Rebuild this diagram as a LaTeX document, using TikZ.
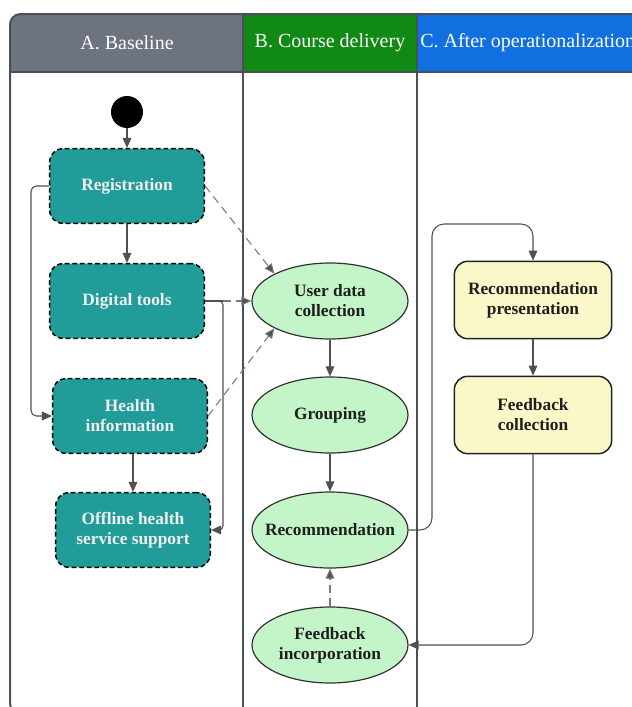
\documentclass[tikz,border=0pt]{standalone}
\usepackage{fontspec}
\setmainfont{Liberation Serif}
\usetikzlibrary{arrows.meta,shapes.geometric,positioning}

\definecolor{laneedge}{RGB}{74,80,90}
\definecolor{hdrgray}{RGB}{110,115,128}
\definecolor{hdrgreen}{RGB}{16,138,20}
\definecolor{hdrblue}{RGB}{17,112,224}
\definecolor{tealbox}{RGB}{34,156,153}
\definecolor{mintbox}{RGB}{195,245,200}
\definecolor{creambox}{RGB}{250,248,200}
\definecolor{wire}{RGB}{80,80,80}
\definecolor{dwire}{RGB}{120,120,120}

\tikzset{
  hdrtext/.style={text=white, font=\fontsize{15}{17}\selectfont, inner sep=0.75pt},
  basebox/.style={draw=black, fill=tealbox, dash pattern=on 3.5pt off 2.2pt, line width=1.1pt,
    rounded corners=10pt, minimum width=116pt, minimum height=56pt, align=center,
    text=white!94!black, font=\fontsize{13}{15}\selectfont\bfseries},
  coursebox/.style={ellipse, draw={rgb,255:red,50;green,50;blue,50}, fill=mintbox, line width=0.9pt,
    minimum width=117pt, minimum height=57pt, inner xsep=-9pt, inner ysep=2pt, align=center,
    text={rgb,255:red,30;green,30;blue,30}, font=\fontsize{13}{15}\selectfont\bfseries},
  afterbox/.style={draw={rgb,255:red,34;green,34;blue,34}, fill=creambox, line width=1.1pt,
    rounded corners=10pt, minimum width=118pt, minimum height=58pt, align=center,
    text={rgb,255:red,30;green,30;blue,30}, font=\fontsize{13}{15}\selectfont\bfseries},
  flow/.style={draw=wire, line width=0.8pt, -{Triangle[length=7.5pt,width=6.5pt]}},
  dflow/.style={draw=dwire, line width=0.8pt, dash pattern=on 6pt off 4pt,
    -{Triangle[length=7.5pt,width=6.5pt,fill=wire]}},
}

\begin{document}
\begin{tikzpicture}[x=0.75pt,y=0.75pt,yscale=-1,xscale=1]
\useasboundingbox (0,0) rectangle (632,707);

%Lane headers
\begin{scope}
\clip [rounded corners=8] (10,14) rectangle (670,714);
\fill [hdrgray] (10,14) rectangle (243,72);
\fill [hdrgreen] (243,14) rectangle (417,72);
\fill [hdrblue] (417,14) rectangle (670,72);
\end{scope}
%Lane frame
\draw [laneedge, line width=1.5pt, rounded corners=8] (10,14) rectangle (670,714);
\draw [laneedge, line width=1.5pt] (10,72) -- (670,72);
\draw [laneedge, line width=1.5pt] (243,14) -- (243,714);
\draw [laneedge, line width=1.5pt] (417,14) -- (417,714);

% Text Node
\node [hdrtext] (hdra) at (127,43) {A. Baseline};
% Text Node
\node [hdrtext] (hdrb) at (330,43) {B. Course delivery};
% Text Node
\node [hdrtext, anchor=west] (hdrc) at (419,43) {C. After operationalization};

%Baseline nodes
\node [circle, fill=black, minimum size=24pt, inner sep=0pt] (start) at (127,112) {};
\node [basebox] (reg) at (127,186) {Registration};
\node [basebox] (digi) at (127,301) {Digital tools};
\node [basebox] (hinfo) at (130,416) {Health\\information};
\node [basebox] (offl) at (133,530) {Offline health\\service support};

%Course delivery nodes
\node [coursebox] (udc) at (330,301) {User data\\collection};
\node [coursebox] (grp) at (330,415) {Grouping};
\node [coursebox] (rec) at (330,530) {Recommendation};
\node [coursebox] (fbi) at (330,645) {Feedback\\incorporation};

%After operationalization nodes
\node [afterbox] (recp) at (533,300) {Recommendation\\presentation};
\node [afterbox] (fbc) at (533,415) {Feedback\\collection};

\coordinate (split) at (223,301);
\coordinate (bypass) at (31,186);
\coordinate (upturn) at (432,224);

%Connectors
\draw [flow] (start) -- (reg);
\draw [flow] (reg) -- (digi);
\draw [flow, rounded corners=4] (reg.west) -- (bypass) |- (hinfo.west);
\draw [flow] (offl.north |- hinfo.south) -- (offl.north);
\draw [flow, rounded corners=3] (digi.east) -- (split) |- (offl.east);
\draw [dflow] (split) -- (udc.west);
\draw [draw=wire, line width=0.8pt] (digi.east) -- (split);
\draw [dflow] (reg.east) -- (udc.north west);
\draw [dflow] (hinfo.east) -- (udc.south west);
\draw [flow] (udc) -- (grp);
\draw [flow] (grp) -- (rec);
\draw [dflow] (fbi) -- (rec);
\draw [flow, rounded corners=9] (rec.east) -| (upturn) -| (recp.north);
\draw [flow] (recp) -- (fbc);
\draw [flow, rounded corners=9] (fbc.south) |- (fbi.east);

\end{tikzpicture}
\end{document}
